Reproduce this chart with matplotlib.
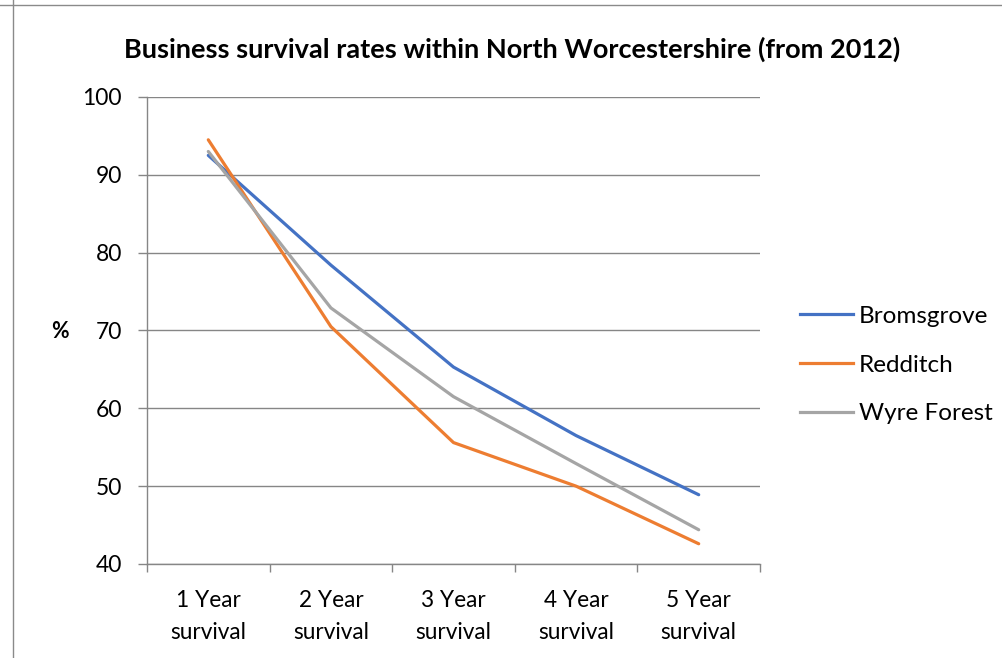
import matplotlib
matplotlib.use("Agg")
import matplotlib.pyplot as plt
from matplotlib.lines import Line2D

categories = ["1 Year\nsurvival", "2 Year\nsurvival", "3 Year\nsurvival", "4 Year\nsurvival", "5 Year\nsurvival"]
bromsgrove = [92.5, 78.4, 65.3, 56.5, 48.9]
redditch = [94.5, 70.5, 55.6, 50.0, 42.6]
wyre_forest = [93.0, 72.9, 61.5, 52.9, 44.4]
series_names = ["Bromsgrove", "Redditch", "Wyre Forest"]
colors = ["#4472C4", "#ED7D31", "#A5A5A5"]
yticks = [40, 50, 60, 70, 80, 90, 100]

plt.rcParams['font.family'] = ['Lato', 'DejaVu Sans']

fig = plt.figure(figsize=(10.03, 6.58), dpi=100)
ax = fig.add_axes([147/1003, 1-564/658, (760-147)/1003, (564-97)/658])

grid_c = "#868686"
x = list(range(len(categories)))
for vals, name, c in zip([bromsgrove, redditch, wyre_forest], series_names, colors):
    ax.plot(x, vals, color=c, lw=2.3, label=name, solid_capstyle='round', solid_joinstyle='round', zorder=3)

ax.set_xlim(-0.5, len(categories)-0.5)
ax.set_ylim(40, 100)
ax.set_yticks(yticks)
ax.set_yticklabels([str(v) for v in yticks], fontsize=16.5)
ax.set_xticks(x)
ax.set_xticklabels(categories, fontsize=16.3, linespacing=1.65)
ax.set_xticks([i - 0.5 for i in range(len(categories)+1)], minor=True)
ax.tick_params(axis='x', which='major', length=0, pad=18.5)
ax.tick_params(axis='x', which='minor', length=6, color=grid_c, width=1, direction='out')
ax.tick_params(axis='y', length=6.5, color=grid_c, width=1, direction='out', pad=11.5)
ax.grid(axis='y', color=grid_c, lw=1)
ax.set_axisbelow(True)
for s in ['top', 'right']:
    ax.spines[s].set_visible(False)
for s in ['left', 'bottom']:
    ax.spines[s].set_color(grid_c)
    ax.spines[s].set_linewidth(1)

fig.text(60/1003, 1-332/658, "%", fontsize=15.5, fontweight='bold', ha='center', va='center')
fig.text(512/1003, 1-49/658, "Business survival rates within North Worcestershire (from 2012)",
         fontsize=19.5, fontweight='bold', ha='center', va='center')

handles = [Line2D([0], [0], color=c, lw=2.3) for c in colors]
fig.legend(handles, series_names, loc='center left', bbox_to_anchor=(800/1003, 1-365/658),
           frameon=False, fontsize=17.5, handlelength=2.17, handletextpad=0.25, labelspacing=1.15,
           borderpad=0, borderaxespad=0)

# outer frame lines
fig.add_artist(Line2D([0, 1], [1-4.5/658, 1-4.5/658], transform=fig.transFigure, color="#8a8a8a", lw=1))
fig.add_artist(Line2D([13/1003, 13/1003], [0, 1], transform=fig.transFigure, color="#8a8a8a", lw=1))

fig.savefig("out.png", dpi=100)
